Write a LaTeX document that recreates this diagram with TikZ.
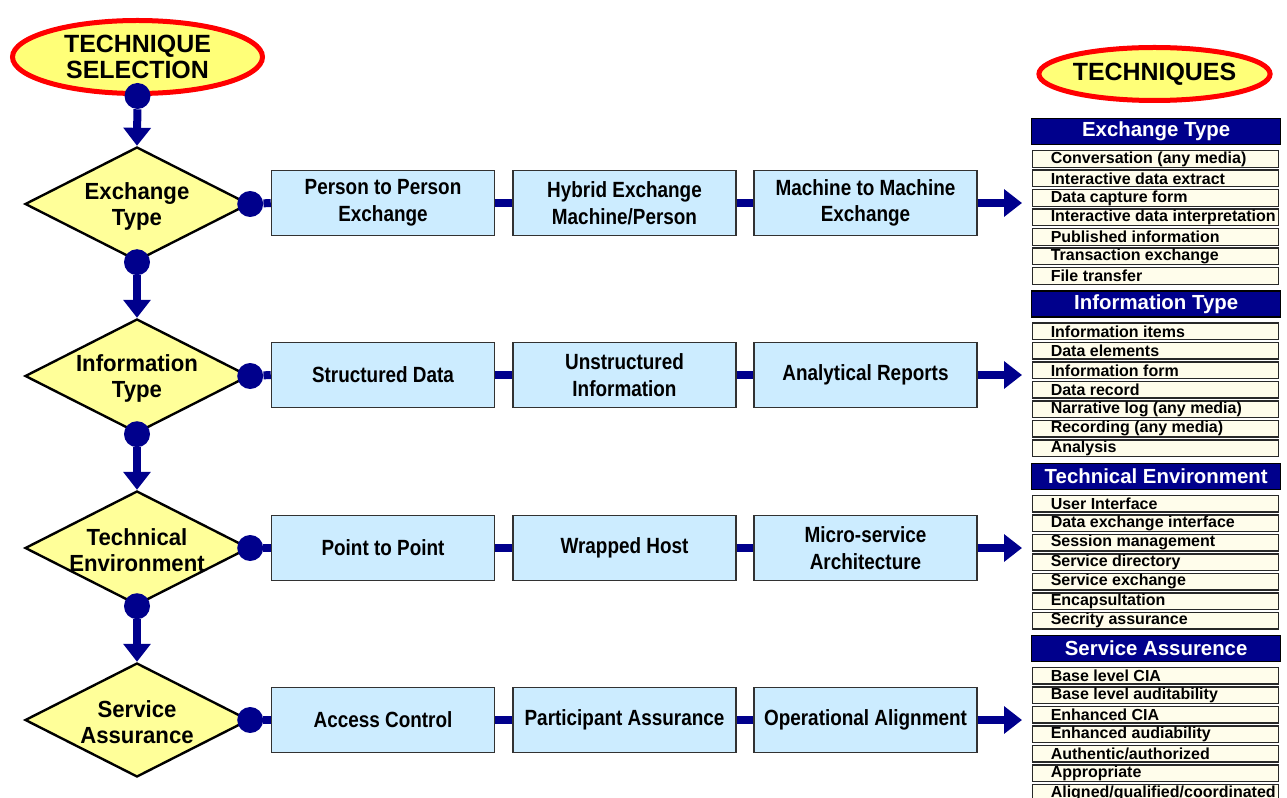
\documentclass[tikz,border=0pt]{standalone}
\usepackage{fontspec}
\setmainfont{Liberation Sans}
\newfontfamily\boxfont[FakeStretch=0.86]{Liberation Sans}
\newfontfamily\diafont[FakeStretch=0.95]{Liberation Sans}
\usetikzlibrary{shapes.geometric,arrows.meta}
\definecolor{navy}{RGB}{0,0,140}
\definecolor{boxblue}{RGB}{204,236,255}
\definecolor{diayellow}{RGB}{255,255,153}
\definecolor{ellyellow}{RGB}{255,255,120}
\definecolor{cream}{RGB}{255,253,235}
\definecolor{boxedge}{RGB}{50,50,50}
\definecolor{itemedge}{RGB}{40,40,40}
\newcommand\itemtxt[1]{\makebox[184.5pt][l]{\hspace{13.5pt}\raisebox{-0.8pt}{#1}}}
\begin{document}
\begin{tikzpicture}[x=0.75pt,y=-0.75pt,
  startell/.style={ellipse, draw=red, line width=3.75pt, fill=ellyellow, inner sep=0, align=center,
    font=\bfseries\fontsize{18.7}{20}\selectfont},
  dia/.style={diamond, draw=black, line width=1.8pt, fill=diayellow, minimum width=168pt,
    minimum height=85.5pt, inner sep=0},
  diatext/.style={align=center, inner sep=0, font=\diafont\bfseries\fontsize{17.5}{19.5}\selectfont},
  optbox/.style={rectangle, draw=boxedge, line width=1.1pt, fill=boxblue, minimum width=167.25pt,
    minimum height=48.75pt, inner sep=0, align=center, font=\boxfont\bfseries\fontsize{16.5}{20}\selectfont},
  dot/.style={circle, fill=navy, minimum size=19.5pt, inner sep=0},
  bar/.style={draw=navy, line width=6pt},
  flow/.style={draw=navy, line width=6pt, -{Triangle[width=20pt,length=13.5pt]}},
  hdr/.style={rectangle, draw=black, line width=1pt, fill=navy, text=white, minimum width=186.75pt,
    minimum height=19.5pt, inner sep=0, anchor=north west, font=\bfseries\fontsize{15.3}{17}\selectfont},
  itm/.style={rectangle, draw=itemedge, line width=1.1pt, fill=cream, minimum height=12.4pt,
    inner sep=0, anchor=north west, font=\bfseries\fontsize{12}{13}\selectfont}
]
\useasboundingbox (0,0) rectangle (1287,798);

% start ellipse
\node[startell, minimum width=187.5pt, minimum height=54.75pt] (start) at (137.5,57) {TECHNIQUE\\SELECTION};
\node[startell, minimum width=172.5pt, minimum height=39.75pt] (techs) at (1154.5,74) {TECHNIQUES};

% diamonds
\node[dia, label={[diatext,yshift=-1.5pt]center:Exchange\\Type}] (d1) at (137,204) {};
\node[dia, label={[diatext,yshift=-1.5pt]center:Information\\Type}] (d2) at (137,376) {};
\node[dia, label={[diatext,yshift=-1.5pt]center:Technical\\Environment}] (d3) at (137,548) {};
\node[dia, label={[diatext,yshift=-1.5pt]center:Service\\Assurance}] (d4) at (137,720) {};

% option boxes
\node[optbox] (b1a) at (383,203) {\raisebox{-1.5pt}{Person to Person}\\\raisebox{-1.5pt}{Exchange}};
\node[optbox] (b1b) at (624.5,203) {\raisebox{-1.5pt}{Hybrid Exchange}\\\raisebox{-1.5pt}{Machine/Person}};
\node[optbox] (b1c) at (865.5,203) {\raisebox{-1.5pt}{Machine to Machine}\\\raisebox{-1.5pt}{Exchange}};
\node[optbox] (b2a) at (383,375) {\raisebox{-1.5pt}{Structured Data}};
\node[optbox] (b2b) at (624.5,375) {\raisebox{-1.5pt}{Unstructured}\\\raisebox{-1.5pt}{Information}};
\node[optbox] (b2c) at (865.5,375) {\raisebox{-1.5pt}{Analytical Reports}};
\node[optbox] (b3a) at (383,548) {\raisebox{-1.5pt}{Point to Point}};
\node[optbox] (b3b) at (624.5,548) {\raisebox{-1.5pt}{Wrapped Host}};
\node[optbox] (b3c) at (865.5,548) {\raisebox{-1.5pt}{Micro-service}\\\raisebox{-1.5pt}{Architecture}};
\node[optbox] (b4a) at (383,720) {\raisebox{-1.5pt}{Access Control}};
\node[optbox] (b4b) at (624.5,720) {\raisebox{-1.5pt}{Participant Assurance}};
\node[optbox] (b4c) at (865.5,720) {\raisebox{-1.5pt}{Operational Alignment}};

% dots
\node[dot] (s0) at (start.south) {};
\node[dot] (d1s) at (d1.south) {};
\node[dot] (d2s) at (d2.south) {};
\node[dot] (d3s) at (d3.south) {};
\node[dot] (d1e) at (d1.east) {};
\node[dot] (d2e) at (d2.east) {};
\node[dot] (d3e) at (d3.east) {};
\node[dot] (d4e) at (d4.east) {};

% arrow ends
\coordinate (t1) at (1022,203);
\coordinate (t2) at (1022,375);
\coordinate (t3) at (1022,548);
\coordinate (t4) at (1022,720);

% vertical flow
\draw[flow] (s0) -- (d1.north);
\draw[flow] (d1s) -- (d2.north);
\draw[flow] (d2s) -- (d3.north);
\draw[flow] (d3s) -- (d4.north);

% horizontal links
\draw[bar] (d1e) -- (b1a.west);
\draw[bar] (b1a.east) -- (b1b.west);
\draw[bar] (b1b.east) -- (b1c.west);
\draw[flow] (b1c.east) -- (t1);
\draw[bar] (d2e) -- (b2a.west);
\draw[bar] (b2a.east) -- (b2b.west);
\draw[bar] (b2b.east) -- (b2c.west);
\draw[flow] (b2c.east) -- (t2);
\draw[bar] (d3e) -- (b3a.west);
\draw[bar] (b3a.east) -- (b3b.west);
\draw[bar] (b3b.east) -- (b3c.west);
\draw[flow] (b3c.east) -- (t3);
\draw[bar] (d4e) -- (b4a.west);
\draw[bar] (b4a.east) -- (b4b.west);
\draw[bar] (b4b.east) -- (b4c.west);
\draw[flow] (b4c.east) -- (t4);

% techniques column
\node[hdr] (h1) at (1031,118) {Exchange Type};
\foreach \t [count=\i] in {Conversation (any media), Interactive data extract, Data capture form,
  Interactive data interpretation, Published information, Transaction exchange, File transfer}
  \node[itm] (gA\i) at (1032,{150+19.5*(\i-1)}) {\itemtxt{\t}};

\node[hdr] (h2) at (1031,290.3) {Information Type};
\foreach \t [count=\i] in {Information items, Data elements, Information form, Data record,
  Narrative log (any media), Recording (any media), Analysis}
  \node[itm] (gB\i) at (1032,{322.3+19.5*(\i-1)}) {\itemtxt{\t}};

\node[hdr] (h3) at (1031,462.6) {Technical Environment};
\foreach \t [count=\i] in {User Interface, Data exchange interface, Session management,
  Service directory, Service exchange, Encapsultation, Secrity assurance}
  \node[itm] (gC\i) at (1032,{494.6+19.5*(\i-1)}) {\itemtxt{\t}};

\node[hdr] (h4) at (1031,634.9) {Service Assurence};
\foreach \t [count=\i] in {Base level CIA, Base level auditability, Enhanced CIA,
  Enhanced audiability, Authentic/authorized, Appropriate, Aligned/qualified/coordinated}
  \node[itm] (gD\i) at (1032,{666.9+19.5*(\i-1)}) {\itemtxt{\t}};
\end{tikzpicture}
\end{document}
